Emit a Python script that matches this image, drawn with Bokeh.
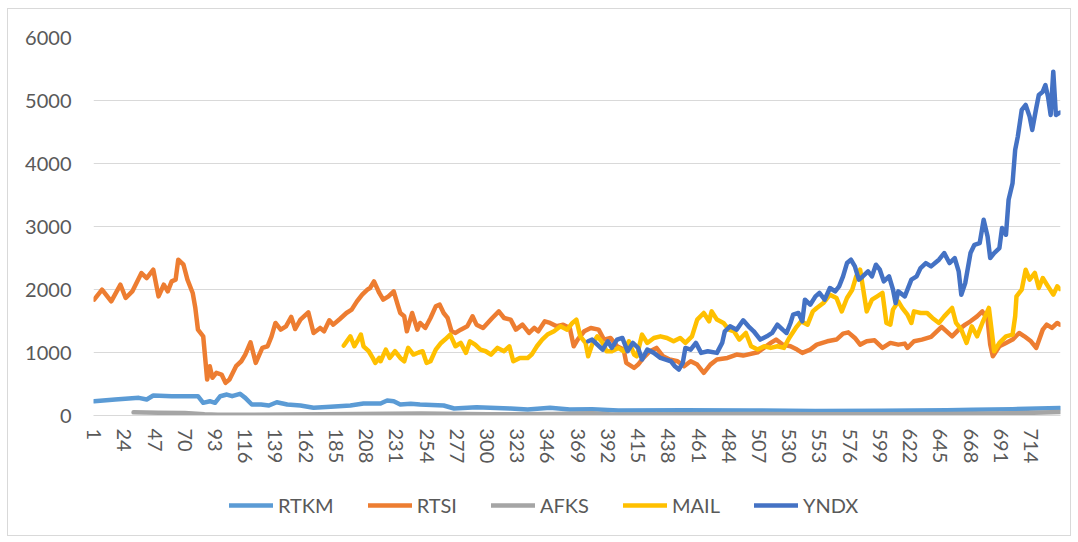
from bokeh.plotting import figure
from bokeh.layouts import column
from bokeh.models import ColumnDataSource, FixedTicker, Legend, LegendItem, Range1d
from bokeh.embed import file_html
from bokeh.resources import INLINE

# ---------------- data ----------------
x_ticks = [1, 24, 47, 70, 93, 116, 139, 162, 185, 208, 231, 254, 277, 300, 323, 346,
           369, 392, 415, 438, 461, 484, 507, 530, 553, 576, 599, 622, 645, 668, 691, 714]
y_ticks = [0, 1000, 2000, 3000, 4000, 5000, 6000]
n_points = 736

rtkm_x = [1, 17, 35, 41, 46, 60, 80, 84, 89, 93, 97, 102, 106, 112, 116, 121, 128, 134, 140,
          148, 158, 168, 181, 196, 206, 219, 224, 229, 234, 242, 249, 267, 275, 292, 318, 331,
          348, 363, 380, 400, 450, 500, 550, 600, 650, 670, 700, 736]
rtkm_y = [227, 254, 280, 254, 317, 306, 306, 201, 227, 201, 306, 333, 306, 344, 280, 174, 174,
          159, 211, 174, 159, 122, 138, 159, 190, 190, 238, 227, 174, 185, 174, 159, 111, 132,
          111, 95, 122, 95, 100, 80, 85, 80, 70, 75, 85, 90, 100, 120]

rtsi_x = [1, 7, 14, 21, 25, 30, 37, 41, 46, 50, 54, 57, 60, 63, 65, 69, 72, 76, 78, 80, 84, 87,
          89, 91, 94, 98, 101, 104, 109, 113, 116, 120, 124, 129, 133, 136, 139, 143, 147, 151,
          154, 158, 164, 168, 173, 176, 180, 183, 188, 193, 197, 201, 205, 209, 211, 214, 218,
          221, 225, 229, 232, 234, 237, 239, 243, 247, 249, 253, 257, 261, 264, 267, 270, 273,
          276, 280, 285, 289, 292, 297, 304, 309, 313, 318, 322, 327, 332, 336, 339, 344, 348,
          353, 358, 363, 366, 369, 374, 379, 385, 389, 394, 399, 404, 406, 412, 415, 419, 424,
          429, 434, 439, 445, 450, 455, 460, 465, 470, 475, 483, 490, 495, 506, 516, 520, 525,
          531, 536, 540, 546, 551, 559, 566, 571, 575, 580, 584, 589, 595, 601, 607, 613, 618,
          620, 625, 631, 638, 646, 654, 659, 664, 668, 673, 677, 681, 683, 685, 690, 695, 700,
          705, 709, 714, 718, 723, 726, 730, 734, 736]
rtsi_y = [1839, 1997, 1812, 2076, 1865, 1970, 2261, 2182, 2314, 1891, 2076, 1970, 2129, 2156,
          2473, 2393, 2156, 1945, 1707, 1363, 1257, 571, 782, 598, 677, 650, 518, 571, 782, 861,
          967, 1162, 835, 1073, 1099, 1257, 1469, 1363, 1416, 1564, 1373, 1522, 1638, 1310, 1390,
          1337, 1511, 1442, 1532, 1627, 1680, 1812, 1918, 1997, 2024, 2129, 1945, 1839, 1891,
          1970, 1759, 1627, 1574, 1337, 1627, 1363, 1469, 1390, 1548, 1732, 1759, 1627, 1548,
          1337, 1310, 1363, 1416, 1574, 1442, 1390, 1548, 1653, 1548, 1522, 1363, 1442, 1310,
          1390, 1337, 1495, 1469, 1416, 1442, 1390, 1099, 1205, 1337, 1390, 1363, 1205, 1231,
          1099, 1046, 835, 756, 808, 914, 1020, 1073, 940, 888, 861, 782, 861, 808, 677, 808,
          888, 914, 967, 951, 1003, 1152, 1205, 1125, 1099, 1046, 994, 1046, 1125, 1178, 1205,
          1300, 1320, 1231, 1125, 1178, 1194, 1073, 1152, 1125, 1141, 1073, 1178, 1205, 1247,
          1406, 1257, 1363, 1442, 1495, 1574, 1653, 1522, 1125, 940, 1099, 1152, 1205, 1310,
          1257, 1178, 1073, 1363, 1442, 1390, 1469, 1442]

afks_x = [31, 50, 70, 85, 95, 150, 200, 250, 300, 350, 380, 395, 450, 500, 550, 600, 650, 700, 736]
afks_y = [50, 45, 40, 20, 12, 15, 25, 30, 20, 25, 35, 15, 20, 25, 20, 20, 25, 35, 55]

mail_x = [191, 196, 199, 202, 204, 206, 210, 213, 215, 218, 219, 223, 226, 230, 234, 237, 240,
          244, 248, 251, 254, 257, 261, 265, 268, 272, 276, 280, 284, 287, 291, 295, 299, 303,
          308, 313, 317, 320, 325, 331, 334, 338, 342, 346, 351, 356, 361, 365, 368, 371, 375,
          377, 380, 384, 388, 391, 395, 400, 404, 408, 412, 414, 418, 422, 427, 432, 437, 442,
          447, 451, 456, 460, 465, 469, 471, 475, 480, 484, 488, 492, 497, 501, 506, 511, 516,
          521, 526, 530, 535, 539, 544, 548, 551, 556, 561, 566, 570, 574, 578, 581, 584, 586,
          589, 593, 597, 601, 604, 607, 609, 613, 616, 620, 623, 625, 630, 635, 639, 644, 648,
          654, 657, 661, 665, 669, 673, 677, 682, 684, 686, 690, 695, 700, 702, 703, 707, 710,
          713, 717, 720, 723, 727, 731, 734, 736]
mail_y = [1110, 1257, 1099, 1205, 1284, 1099, 1020, 914, 835, 914, 861, 1046, 914, 1020, 914,
          861, 1073, 967, 1000, 1020, 835, 861, 1046, 1152, 1205, 1284, 1099, 1152, 994, 1178,
          1125, 1046, 1020, 967, 1073, 1020, 1099, 861, 914, 914, 967, 1099, 1205, 1284, 1337,
          1416, 1363, 1469, 1522, 1257, 1152, 940, 1125, 1257, 1152, 1020, 1020, 1073, 1020,
          1178, 967, 940, 1284, 1152, 1231, 1257, 1231, 1178, 1231, 1152, 1257, 1522, 1627,
          1495, 1653, 1522, 1469, 1363, 1337, 1205, 1310, 1099, 1046, 1099, 1073, 1099, 1073,
          1231, 1390, 1495, 1442, 1653, 1707, 1786, 1918, 1865, 1653, 1865, 1997, 2208, 2314,
          2050, 1653, 1839, 1891, 1945, 1469, 1442, 1680, 1812, 1707, 1601, 1469, 1653, 1627,
          1627, 1548, 1469, 1574, 1707, 1469, 1363, 1152, 1416, 1257, 1469, 1707, 1363, 1020,
          1152, 1257, 1284, 1574, 1891, 1997, 2314, 2156, 2262, 2024, 2182, 2050, 1918, 2050,
          2008]

yndx_x = [377, 380, 384, 388, 392, 395, 399, 403, 407, 411, 415, 418, 422, 427, 432, 436, 440,
          443, 446, 449, 451, 455, 459, 463, 468, 475, 479, 481, 485, 490, 495, 499, 503, 508,
          513, 517, 521, 525, 528, 531, 533, 537, 540, 542, 546, 550, 553, 557, 561, 565, 568,
          571, 574, 577, 580, 583, 586, 590, 593, 596, 599, 602, 606, 609, 611, 613, 618, 623,
          627, 630, 634, 638, 641, 644, 648, 652, 656, 659, 661, 664, 668, 671, 675, 678, 681,
          683, 686, 690, 692, 695, 697, 700, 702, 704, 707, 710, 713, 715, 718, 720, 723, 725,
          727, 729, 731, 733, 736]
yndx_y = [1178, 1205, 1125, 1046, 1178, 1073, 1205, 1231, 1020, 1152, 1073, 888, 1046, 994, 914,
          888, 861, 782, 729, 835, 1073, 1046, 1152, 994, 1020, 994, 1152, 1337, 1416, 1363,
          1511, 1416, 1337, 1205, 1257, 1310, 1442, 1363, 1310, 1469, 1601, 1627, 1495, 1839,
          1759, 1891, 1945, 1839, 2024, 1970, 2050, 2208, 2420, 2473, 2367, 2156, 2208, 2288,
          2208, 2393, 2314, 2129, 2208, 2000, 1786, 1970, 1891, 2156, 2208, 2341, 2420, 2367,
          2420, 2473, 2578, 2420, 2499, 2288, 1918, 2103, 2578, 2710, 2737, 3107, 2842, 2499,
          2578, 2658, 2975, 2869, 3424, 3688, 4216, 4427, 4850, 4929, 4744, 4533, 4877, 5088,
          5140, 5246, 5061, 4771, 5457, 4771, 4807]

series = [
    ("RTKM", rtkm_x, rtkm_y, "#5B9BD5"),
    ("RTSI", rtsi_x, rtsi_y, "#ED7D31"),
    ("AFKS", afks_x, afks_y, "#A5A5A5"),
    ("MAIL", mail_x, mail_y, "#FFC000"),
    ("YNDX", yndx_x, yndx_y, "#4472C4"),
]

FONT = "Lato"
TXT = "#595959"
GRID = "#D9D9D9"
LW = 4.5

# ---------------- main chart ----------------
p = figure(width=1062, height=457, output_backend="svg", toolbar_location=None,
           x_range=Range1d(0.5, n_points + 0.5), y_range=Range1d(0, 6000),
           min_border_left=85, min_border_right=10, min_border_top=28, min_border_bottom=50)
p.outline_line_color = None
p.background_fill_color = "white"
p.border_fill_color = "white"

sources = []
for name, xs, ys, col in series:
    src = ColumnDataSource(dict(x=xs, y=ys))
    sources.append(src)
    p.line("x", "y", source=src, line_color=col, line_width=LW,
           line_join="round", line_cap="round")

p.xaxis.ticker = FixedTicker(ticks=x_ticks)
p.xaxis.major_label_orientation = "vertical"
p.xaxis.major_label_text_font = FONT
p.xaxis.major_label_text_font_size = "20px"
p.xaxis.major_label_text_color = TXT
p.xaxis.major_label_standoff = 7
p.xaxis.major_tick_line_color = None
p.xaxis.minor_tick_line_color = None
p.xaxis.axis_line_color = GRID
p.xaxis.axis_line_width = 1

p.yaxis.ticker = FixedTicker(ticks=y_ticks)
p.yaxis.major_label_text_font = FONT
p.yaxis.major_label_text_font_size = "20px"
p.yaxis.major_label_text_color = TXT
p.yaxis.major_label_standoff = 16
p.yaxis.major_tick_line_color = None
p.yaxis.minor_tick_line_color = None
p.yaxis.axis_line_color = None

p.xgrid.grid_line_color = None
p.ygrid.ticker = FixedTicker(ticks=y_ticks)
p.ygrid.grid_line_color = GRID
p.ygrid.grid_line_width = 1

# ---------------- legend strip ----------------
# same series drawn into a strip whose ranges keep them out of view; only the legend shows
lf = figure(width=1062, height=69, output_backend="svg", toolbar_location=None,
            x_range=Range1d(-1, 0), y_range=Range1d(-1, 0),
            x_axis_type=None, y_axis_type=None,
            min_border_left=0, min_border_right=0, min_border_top=13, min_border_bottom=0)
lf.outline_line_color = None
lf.background_fill_color = "white"
lf.border_fill_color = "white"
items = []
for (name, xs, ys, col), src in zip(series, sources):
    r = lf.line("x", "y", source=src, line_color=col, line_width=LW, line_cap="round")
    items.append(LegendItem(label=name, renderers=[r]))

legend = Legend(items=items, orientation="horizontal", location=(136, 18))
legend.label_text_font = FONT
legend.label_text_font_size = "20px"
legend.label_text_color = TXT
legend.glyph_width = 44
legend.glyph_height = 20
legend.label_height = 20
legend.label_standoff = 5
legend.spacing = 34
legend.padding = 0
legend.margin = 0
legend.background_fill_alpha = 0
legend.border_line_color = None
lf.add_layout(legend, "center")

layout = column(p, lf, spacing=0)
layout.styles = {"border": "1px solid #D9D9D9", "margin-left": "7px", "margin-top": "8px"}

open("out.html", "w").write(file_html(layout, INLINE))
